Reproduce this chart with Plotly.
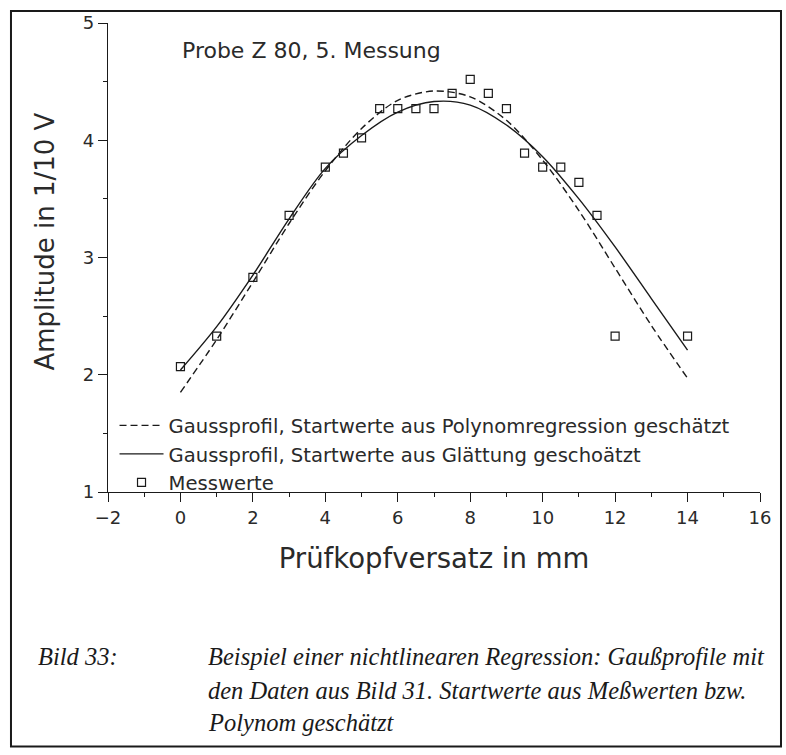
import plotly.graph_objects as go

# Measured amplitudes (probe offset in mm, amplitude in 1/10 V)
x_mess = [0, 1, 2, 3, 4, 4.5, 5, 5.5, 6, 6.5, 7, 7.5, 8, 8.5, 9, 9.5, 10, 10.5, 11, 11.5, 12, 14]
y_mess = [2.07, 2.33, 2.83, 3.36, 3.77, 3.89, 4.02, 4.27, 4.27, 4.27, 4.27, 4.40, 4.52, 4.40,
          4.27, 3.89, 3.77, 3.77, 3.64, 3.36, 2.33, 2.33]

# Fitted Gaussian profiles sampled at whole millimetres
x_fit = [0, 1, 2, 3, 4, 5, 6, 7, 8, 9, 10, 11, 12, 13, 14]
y_polynom = [1.85, 2.30, 2.79, 3.29, 3.74, 4.10, 4.34, 4.42, 4.37, 4.17, 3.83, 3.40, 2.91, 2.42, 1.97]
y_glaettung = [2.04, 2.41, 2.85, 3.33, 3.76, 4.04, 4.24, 4.33, 4.30, 4.13, 3.86, 3.50, 3.09, 2.65, 2.21]

x_ticks = [-2, 0, 2, 4, 6, 8, 10, 12, 14, 16]
y_ticks = [1, 2, 3, 4, 5]

names = [
    "Gaussprofil, Startwerte aus Polynomregression geschätzt",
    "Gaussprofil, Startwerte aus Glättung geschoätzt",
    "Messwerte",
]

SANS = "'DejaVu Sans', sans-serif"
SERIF = "'Liberation Serif', 'DejaVu Serif', serif"
INK = "#1a1a1a"
TXT = "#2a2a2a"

fig = go.Figure()
fig.add_trace(go.Scatter(
    x=x_fit, y=y_polynom, mode="lines", name=names[0],
    line=dict(color=INK, width=1.4, dash="7px,4px", shape="spline", smoothing=0.9),
))
fig.add_trace(go.Scatter(
    x=x_fit, y=y_glaettung, mode="lines", name=names[1],
    line=dict(color=INK, width=1.4, shape="spline", smoothing=0.9),
))
fig.add_trace(go.Scatter(
    x=x_mess, y=y_mess, mode="markers", name=names[2],
    marker=dict(symbol="square-open", size=8, color=INK, line=dict(width=1.2, color=INK)),
))

axis_common = dict(
    showgrid=False, zeroline=False, showline=True, linecolor=INK, linewidth=1.4,
    ticks="outside", ticklen=9, tickwidth=1.3, tickcolor=INK,
    tickfont=dict(family=SANS, size=18, color=TXT), mirror=False,
)

fig.update_xaxes(
    range=[-2, 16], tickvals=x_ticks, ticktext=[("\u22122" if v < 0 else str(v)) for v in x_ticks],
    minor=dict(dtick=1, ticks="outside", ticklen=4, tickwidth=1.2, tickcolor=INK),
    title=dict(text="Prüfkopfversatz in mm", font=dict(family=SANS, size=27.5, color=TXT), standoff=21),
    **axis_common,
)
fig.update_yaxes(
    range=[1, 5], tickvals=y_ticks,
    minor=dict(dtick=0.5, ticks="outside", ticklen=4, tickwidth=1.2, tickcolor=INK),
    **axis_common,
)

# Frame around figure and caption
fig.add_shape(type="rect", xref="paper", yref="paper",
              x0=-0.1488, x1=1.0322, y0=-0.5424, y1=1.0254,
              line=dict(color=INK, width=2), layer="below")

cap_font = dict(family=SERIF, size=24.5, color=INK, style="italic")
annotations = [
    dict(text="Amplitude in 1/10 V", x=-0.0966, y=0.534, xanchor="center", yanchor="middle",
         textangle=-90, font=dict(family=SANS, size=26, color=TXT)),
    dict(text="Probe Z 80, 5. Messung", x=0.1104, y=0.9407, xanchor="left", yanchor="middle",
         font=dict(family=SANS, size=22, color=TXT)),
    dict(text="Bild 33:", x=-0.110, y=-0.350, xanchor="left", yanchor="middle", font=cap_font),
    dict(text="Beispiel einer nichtlinearen Regression: Gaußprofile mit", x=0.150, y=-0.350,
         xanchor="left", yanchor="middle", font=cap_font),
    dict(text="den Daten aus Bild 31. Startwerte aus Meßwerten bzw.", x=0.150, y=-0.424,
         xanchor="left", yanchor="middle", font=cap_font),
    dict(text="Polynom geschätzt", x=0.150, y=-0.492,
         xanchor="left", yanchor="middle", font=cap_font),
]
for a in annotations:
    a.update(xref="paper", yref="paper", showarrow=False)

fig.update_layout(
    width=786, height=755, autosize=False,
    margin=dict(l=108, r=26, t=20, b=263),
    paper_bgcolor="white", plot_bgcolor="white",
    showlegend=True,
    legend=dict(x=0.010, y=0.183, xanchor="left", yanchor="top", bgcolor="rgba(0,0,0,0)",
                font=dict(family=SANS, size=19.6, color=TXT), tracegroupgap=0, itemwidth=44),
    annotations=annotations,
)

fig.write_html("out.html")
